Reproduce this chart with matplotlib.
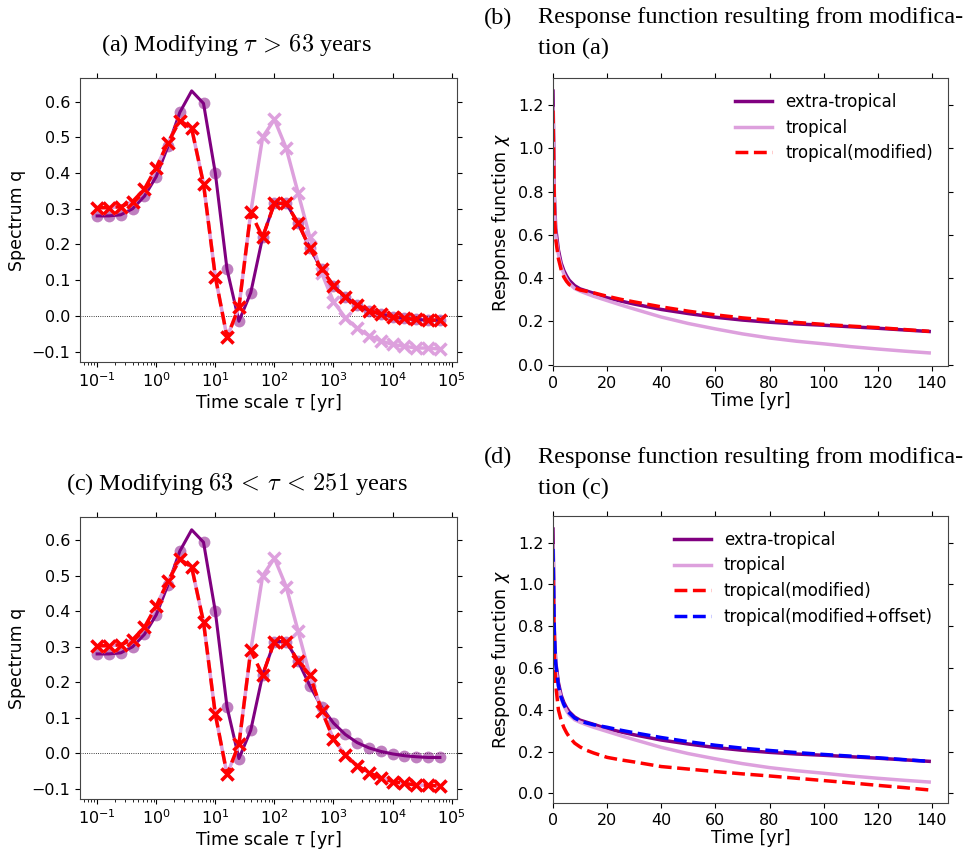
import numpy as np
import matplotlib.pyplot as plt
from matplotlib.ticker import NullFormatter

# time scales of the spectrum (yr)
tau = [0.1, 0.158, 0.251, 0.398, 0.631, 1.0, 1.58, 2.51, 3.98, 6.31,
       10.0, 15.8, 25.1, 39.8, 63.1, 100.0, 158.0, 251.0, 398.0, 631.0,
       1000.0, 1580.0, 2510.0, 3980.0, 6310.0, 10000.0, 15800.0, 25100.0, 39800.0, 63100.0]

q_extra = [0.28, 0.28, 0.283, 0.30, 0.335, 0.39, 0.475, 0.57, 0.63, 0.595,
           0.40, 0.13, -0.015, 0.065, 0.22, 0.315, 0.315, 0.26, 0.19, 0.13,
           0.085, 0.053, 0.03, 0.015, 0.005, -0.002, -0.007, -0.01, -0.012, -0.012]
# circle markers of the extra-tropical estimate (none at the peak)
q_extra_pts = [0.28, 0.28, 0.283, 0.30, 0.335, 0.39, 0.475, 0.57, None, 0.595,
               0.40, 0.13, -0.015, 0.065, 0.22, 0.315, 0.315, 0.26, 0.19, 0.13,
               0.085, 0.053, 0.03, 0.015, 0.005, -0.002, -0.007, -0.01, -0.012, -0.012]
q_trop = [0.303, 0.303, 0.306, 0.32, 0.355, 0.415, 0.485, 0.547, 0.525, 0.37,
          0.11, -0.06, 0.025, 0.29, 0.50, 0.55, 0.47, 0.345, 0.22, 0.12,
          0.04, -0.005, -0.035, -0.055, -0.07, -0.08, -0.085, -0.09, -0.09, -0.093]
q_mod_a = [0.303, 0.303, 0.306, 0.32, 0.355, 0.415, 0.485, 0.547, 0.525, 0.37,
           0.11, -0.06, 0.025, 0.29, 0.22, 0.315, 0.315, 0.26, 0.19, 0.13,
           0.085, 0.053, 0.03, 0.015, 0.005, -0.002, -0.007, -0.01, -0.012, -0.012]
q_mod_c = [0.303, 0.303, 0.306, 0.32, 0.355, 0.415, 0.485, 0.547, 0.525, 0.37,
           0.11, -0.06, 0.025, 0.29, 0.22, 0.315, 0.315, 0.26, 0.22, 0.12,
           0.04, -0.005, -0.035, -0.055, -0.07, -0.08, -0.085, -0.09, -0.09, -0.093]
tau_ticks = [0.1, 1, 10, 100, 1000, 10000, 100000]

# response functions
t = [0, 0.5, 1, 2, 3, 4, 5, 6, 8, 10, 12, 15, 20, 25, 30, 40, 50, 60, 70, 80,
     90, 100, 110, 120, 130, 139]
chi_extra = [1.265, 0.78, 0.63, 0.53, 0.47, 0.435, 0.41, 0.39, 0.365, 0.35, 0.342, 0.33, 0.309,
             0.294, 0.28, 0.255, 0.236, 0.219, 0.206, 0.196, 0.188, 0.182, 0.175, 0.168, 0.16, 0.153]
chi_trop = [1.185, 0.74, 0.60, 0.51, 0.455, 0.42, 0.395, 0.375, 0.352, 0.34, 0.33, 0.316, 0.296,
            0.276, 0.257, 0.22, 0.19, 0.165, 0.142, 0.123, 0.108, 0.096, 0.083, 0.072, 0.062, 0.054]
chi_mod_a = [1.175, 0.72, 0.58, 0.49, 0.44, 0.405, 0.385, 0.37, 0.355, 0.345, 0.34, 0.332, 0.316,
             0.302, 0.29, 0.267, 0.247, 0.23, 0.216, 0.205, 0.195, 0.186, 0.178, 0.171, 0.162, 0.154]
chi_mod_c = [1.03, 0.66, 0.52, 0.40, 0.35, 0.315, 0.29, 0.27, 0.24, 0.222, 0.208, 0.193, 0.172,
             0.16, 0.15, 0.128, 0.116, 0.104, 0.093, 0.083, 0.072, 0.061, 0.05, 0.038, 0.027, 0.016]
chi_offset = [1.17, 0.76, 0.62, 0.515, 0.46, 0.425, 0.40, 0.385, 0.36, 0.347, 0.338, 0.328, 0.316,
              0.302, 0.29, 0.267, 0.247, 0.23, 0.216, 0.205, 0.195, 0.186, 0.178, 0.17, 0.161, 0.153]

W, H = 967, 855
fig = plt.figure(figsize=(W / 100, H / 100), dpi=100)


def box(x0, y0, x1, y1):
    return [x0 / W, 1 - y1 / H, (x1 - x0) / W, (y1 - y0) / H]


def style(ax):
    ax.tick_params(which='major', direction='out', top=True, right=True, labelsize=11.5)
    for s in ax.spines.values():
        s.set_color('#444444')


def spectrum(ax, q_mod):
    pts = np.array([np.nan if v is None else v for v in q_extra_pts])
    ax.plot(tau, q_extra, color='purple', lw=2.2, zorder=2)
    ax.plot(tau, pts, 'o', color='purple', alpha=0.5, ms=8.5, mec='none', zorder=2)
    ax.plot(tau, q_trop, color='plum', lw=2.5, marker='x', ms=8, mew=2.5, zorder=3)
    ax.plot(tau, q_mod, color='red', ls='--', lw=2.5, marker='x', ms=8, mew=2.5, zorder=4)
    ax.axhline(0, color='k', ls=':', lw=0.6, zorder=1)
    ax.set_xscale('log')
    lo, hi = ax.get_xlim()
    ax.set_xticks(tau_ticks)
    minor = [m * 10.0 ** d for d in range(-2, 5) for m in range(2, 10)]
    ax.set_xticks([v for v in minor if lo <= v <= hi], minor=True)
    ax.xaxis.set_minor_formatter(NullFormatter())
    ax.set_xlim(lo, hi)
    ax.set_yticks([-0.1, 0.0, 0.1, 0.2, 0.3, 0.4, 0.5, 0.6])
    ax.set_ylabel('Spectrum q', fontsize=12.5)
    ax.set_xlabel(r'Time scale $\tau$ [yr]', fontsize=12.5, labelpad=1)
    style(ax)


def response(ax, series):
    for y, c, ls, lw, lab in series:
        ax.plot(t, y, color=c, ls=ls, lw=lw, label=lab)
    ax.set_xlim(left=0)
    ax.set_xticks([0, 20, 40, 60, 80, 100, 120, 140])
    ax.set_ylabel(r'Response function $\chi$', fontsize=12.5)
    ax.set_xlabel('Time [yr]', fontsize=12.5, labelpad=1)
    ax.legend(loc='upper right', frameon=False, fontsize=12, handlelength=2.2,
              labelspacing=0.45)
    style(ax)


ax_a = fig.add_axes(box(80, 78, 457, 362))
spectrum(ax_a, q_mod_a)
ax_c = fig.add_axes(box(80, 517, 457, 799))
spectrum(ax_c, q_mod_c)

ax_b = fig.add_axes(box(553, 78, 948, 366))
response(ax_b, [(chi_extra, 'purple', '-', 2.5, 'extra-tropical'),
                (chi_trop, 'plum', '-', 2.5, 'tropical'),
                (chi_mod_a, 'red', '--', 2.5, 'tropical(modified)')])
ax_d = fig.add_axes(box(553, 516, 948, 803))
response(ax_d, [(chi_extra, 'purple', '-', 2.5, 'extra-tropical'),
                (chi_trop, 'plum', '-', 2.5, 'tropical'),
                (chi_mod_c, 'red', '--', 2.5, 'tropical(modified)'),
                (chi_offset, 'blue', '--', 2.5, 'tropical(modified+offset)')])

serif = dict(family='Liberation Serif', fontsize=17.5, math_fontfamily='cm', va='center')
fig.text(236 / W, 1 - 45 / H, r'(a) Modifying $\tau\,>\,63$ years', ha='center', **serif)
fig.text(237 / W, 1 - 484 / H, r'(c) Modifying $63\,<\,\tau\,<\,251$ years', ha='center', **serif)
fig.text(484 / W, 1 - 18 / H, '(b)', ha='left', **serif)
fig.text(538 / W, 1 - 18 / H, 'Response function resulting from modifica-', ha='left', **serif)
fig.text(538 / W, 1 - 48 / H, 'tion (a)', ha='left', **serif)
fig.text(484 / W, 1 - 457 / H, '(d)', ha='left', **serif)
fig.text(538 / W, 1 - 457 / H, 'Response function resulting from modifica-', ha='left', **serif)
fig.text(538 / W, 1 - 488 / H, 'tion (c)', ha='left', **serif)

fig.savefig('out.png', dpi=100)
